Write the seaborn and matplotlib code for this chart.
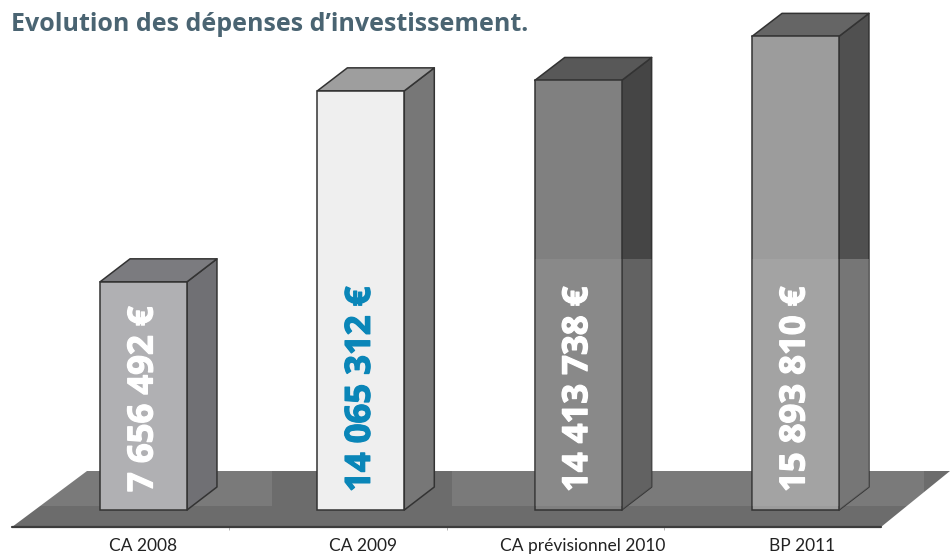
import numpy as np
import pandas as pd
import matplotlib
matplotlib.use('Agg')
import matplotlib.pyplot as plt
import matplotlib.patheffects as pe
from matplotlib.patches import Polygon, Rectangle
import seaborn as sns

# values
postes = ['CA 2008', 'CA 2009', 'CA prévisionnel 2010', 'BP 2011']
montants = [7656492, 14065312, 14413738, 15893810]
etiquettes = ['7 656 492 €', '14 065 312 €', '14 413 738 €', '15 893 810 €']

front_colors = ['#b0b0b3', '#efefef', '#808080', '#9c9c9c']
side_colors = ['#707074', '#777777', '#454545', '#505050']
top_colors = ['#7b7b7f', '#9e9e9e', '#585858', '#656565']
text_colors = ['white', '#0a86b8', 'white', 'white']
side_lifts = [0, 0, 0.16, 0.22]

PX_PER_CAT = 217.33
PX_PER_EURO = 29.8e-6
X0_PX = 143.5
BASE_PX = 510
H = 554


def px(x, y):
    # picture pixels to axis units, for the floor and the depth of the bars
    return (x - X0_PX) / PX_PER_CAT, (BASE_PX - y) / PX_PER_EURO


sns.set_theme(style='white')
plt.rcParams['font.family'] = ['Open Sans', 'DejaVu Sans']

df = pd.DataFrame({'poste': postes, 'montant': montants})

fig = plt.figure(figsize=(9.5, 5.54), dpi=100)
ax = fig.add_axes([0, 27 / H, 1, 527 / H])
sns.barplot(data=df, x='poste', y='montant', hue='poste', palette=front_colors,
            width=0.4, saturation=1, legend=False, edgecolor='#333333', linewidth=1.1,
            ax=ax, zorder=3)

ax.set_xlim(px(0, 0)[0], px(950, 0)[0])
ax.set_ylim(px(0, 527)[1], px(0, 0)[1])

# floor
floor = [px(12, 527), px(881, 527), px(950, 471), px(87, 471)]
ax.add_patch(Polygon(floor, closed=True, fc='#6c6c6c', ec='none', zorder=1))
ax.plot([px(12, 527)[0], px(881, 527)[0]], [px(0, 526.5)[1]] * 2, color='#3c3c3c', lw=1.6, zorder=2,
        clip_on=False)

# pale veil on the floor, under the bars
for left, right in [(20, 272), (452, 924)]:
    xa, ya = px(left, 506)
    xb, yb = px(right, 259)
    ax.add_patch(Rectangle((xa, ya), xb - xa, yb - ya, fc='white', ec='none', alpha=0.1, zorder=1.5))

# 3d faces built on each bar
dx = 30 / PX_PER_CAT
dy = 23 / PX_PER_EURO
y_veil = px(0, 259)[1]
for bar, side, top, lift_alpha in zip(ax.patches[:4], side_colors, top_colors, side_lifts):
    x0 = bar.get_x()
    x1 = x0 + bar.get_width()
    h = bar.get_height()
    side_face = Polygon([(x1, 0), (x1 + dx, dy), (x1 + dx, h + dy), (x1, h)], closed=True,
                        fc=side, ec='#333333', lw=1.1, joinstyle='round', zorder=2.5)
    ax.add_patch(side_face)
    ax.add_patch(Polygon([(x0, h), (x1, h), (x1 + dx, h + dy), (x0 + dx, h + dy)], closed=True,
                         fc=top, ec='#333333', lw=1.1, joinstyle='round', zorder=2.5))
    if lift_alpha:
        # the veil lifts the dark sides more than the fronts
        lift = Rectangle((x1, 0), dx, y_veil, fc='white', ec='none', alpha=lift_alpha, zorder=2.6)
        ax.add_patch(lift)
        lift.set_clip_path(side_face)

# same veil, fainter, over the fronts
ya = px(0, 506)[1]
for bar in ax.patches[2:4]:
    ax.add_patch(Rectangle((bar.get_x(), ya), bar.get_width(), y_veil - ya, fc='white', ec='none',
                           alpha=0.08, zorder=4))

for i, (txt, col) in enumerate(zip(etiquettes, text_colors)):
    ax.annotate(txt, xy=(i, 0), xytext=(0, 18 * 0.72), textcoords='offset points',
                rotation=90, ha='center', va='bottom', color=col, fontsize=25,
                fontweight='bold', zorder=5,
                path_effects=[pe.withStroke(linewidth=0.9, foreground=col)])

sns.despine(ax=ax, left=True, bottom=True, top=True, right=True)
ax.set_xlabel('')
ax.set_ylabel('')
ax.set_yticks([])
ax.set_xticks(np.arange(len(postes)) * 1.01)
ax.set_xticklabels(postes, fontsize=12.5, color='#222222', fontfamily='Lato')
ax.set_xticks(np.arange(3) + 0.395, minor=True)
ax.tick_params(axis='x', which='major', length=0, pad=8)
ax.tick_params(axis='x', which='minor', length=2.5, width=0.6, color='#aaaaaa', bottom=True)

fig.text(11 / 950, 1 - 31 / H, "Evolution des dépenses d’investissement.", color='#4a6472',
         fontsize=18, fontweight='bold', ha='left', va='baseline')

fig.savefig('out.png', dpi=100)
